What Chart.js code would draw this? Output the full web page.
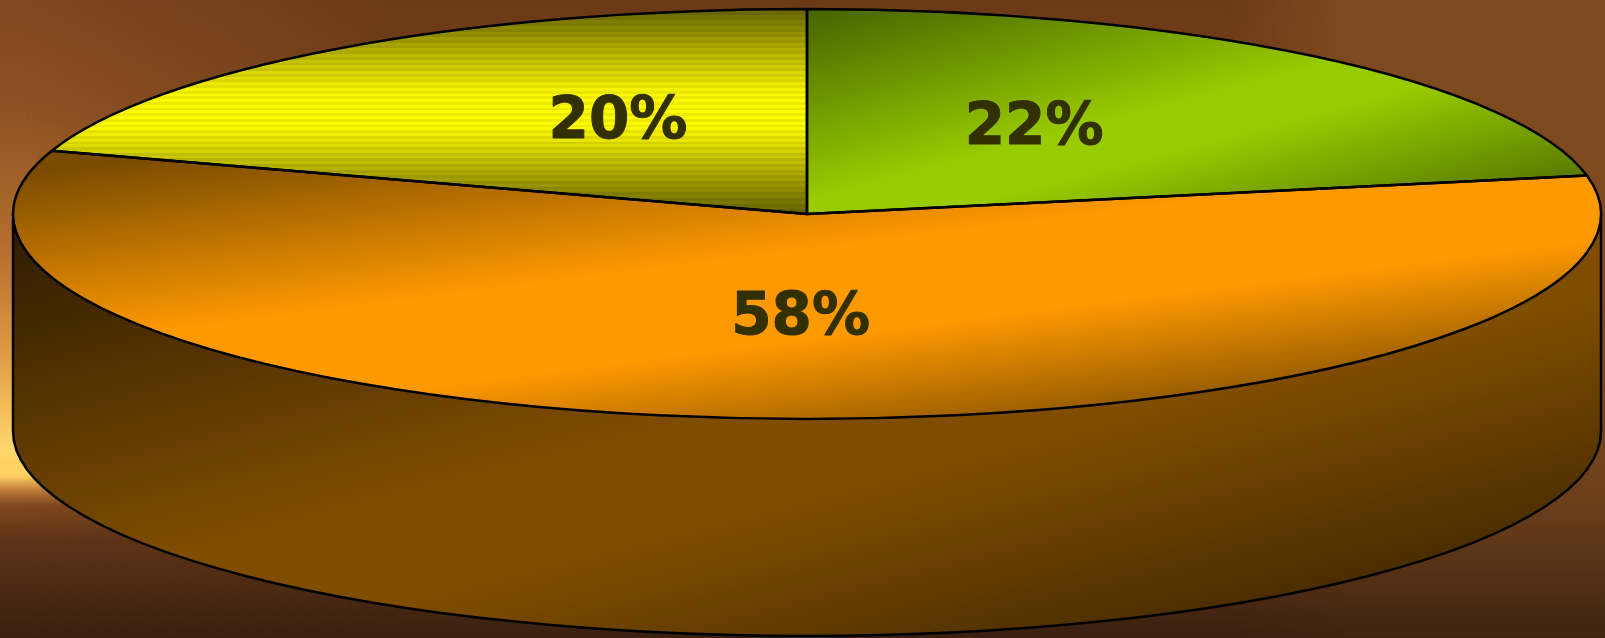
<!DOCTYPE html>
<html>
<head>
<meta charset="utf-8">
<script src="https://cdn.jsdelivr.net/npm/chart.js@4"></script>
<style>
    html, body { margin: 0; padding: 0; width: 1605px; height: 638px; overflow: hidden; }
    body {
        position: relative;
        background: linear-gradient(to bottom, #6c3917 0px, #74411b 120px, #75431c 480px, #5e3417 540px, #3a2010 638px);
    }
    #glow {
        position: absolute; left: 0; top: 0; width: 400px; height: 638px;
        background: linear-gradient(to bottom, #7f4820 0px, #8c5022 100px, #b56f2e 250px, #d99440 340px, #f5bd58 410px, #ffd66c 450px, #ffcf60 476px, #c07e3c 490px, #80481f 505px, #5e3417 540px, #3a2010 638px);
        -webkit-mask-image: linear-gradient(to right, #000 0px, #000 25px, transparent 400px);
        mask-image: linear-gradient(to right, #000 0px, #000 25px, transparent 400px);
    }
    #glowRight {
        position: absolute; right: 0; top: 0; width: 380px; height: 638px;
        background: linear-gradient(to bottom, #7e4a1f 0px, #80491f 300px, #6c3f1b 500px, #3e2410 638px);
        -webkit-mask-image: linear-gradient(to left, #000 0px, #000 260px, transparent 380px);
        mask-image: linear-gradient(to left, #000 0px, #000 260px, transparent 380px);
    }
    #chart { position: absolute; left: 0; top: 0; }
</style>
</head>
<body>
<div id="glow"></div>
<div id="glowRight"></div>
<canvas id="chart" width="1605" height="638"></canvas>
<script>
const categories = ["Green", "Orange", "Yellow"];
const values = [22, 58, 20];

const WIDTH = 1605;
const HEIGHT = 638;
// the pie is a flattened disc, so it is drawn round and squashed by a plugin
const CX = 807;
const CY = 214;
const RX = 794;
const RY = 205;
const DEPTH = 217;
const SQUASH = RY / RX;
// label centres as fractions of the two radii, same order as categories
const labelSpots = [[0.286, -0.415], [-0.008, 0.512], [-0.238, -0.445]];

const chartEl = document.getElementById("chart");
const ctx = chartEl.getContext("2d");

// page y -> y inside the unsquashed chart space
const toChartY = (y) => HEIGHT / 2 + (y - CY) / SQUASH;
const toChartX = (x) => WIDTH / 2 + (x - CX);

// dark corner -> bright band -> dark corner, like a diagonal box gradient
const boxGradient = (x0, y0, x1, y1, dark, bright, from, to) => {
    const w = x1 - x0;
    const h = y1 - y0;
    const mx = (x0 + x1) / 2;
    const my = (y0 + y1) / 2;
    const t = (w * h) / (w * w + h * h);
    const g = ctx.createLinearGradient(mx - t * h, my - t * w, mx + t * h, my + t * w);
    g.addColorStop(0, dark);
    g.addColorStop(from, bright);
    g.addColorStop(to, bright);
    g.addColorStop(1, dark);
    return g;
};

const sliceGradient = (x0, y0, x1, y1, dark, bright, from, to) =>
    boxGradient(toChartX(x0), toChartY(y0), toChartX(x1), toChartY(y1), dark, bright, from, to);

// yellow slice has thin horizontal bands
const bandedYellow = () => {
    const top = 9;
    const bottom = 212;
    const g = ctx.createLinearGradient(0, toChartY(top), 0, toChartY(bottom));
    const bands = 72;
    for (let i = 0; i < bands; i++) {
        const mid = (i + 0.5) / bands;
        const lit = Math.min(1, (1 - Math.abs(mid - 0.5) * 2) * 1.2);
        const shade = i % 2 ? 0.93 : 1;
        const rg = (105 + 150 * lit) * shade;
        const color = `rgb(${rg | 0}, ${(rg * 0.985) | 0}, 0)`;
        g.addColorStop(i / bands, color);
        g.addColorStop((i + 1) / bands, color);
    }
    return g;
};

const sliceColors = [
    sliceGradient(807, 9, 1585, 214, "#466200", "#99cc00", 0.47, 0.58),
    sliceGradient(13, 175, 1601, 375, "#7a4c00", "#ff9900", 0.44, 0.66),
    bandedYellow(),
];

const squash = (c, chart) => {
    const area = chart.chartArea;
    c.translate(CX, CY);
    c.scale(1, SQUASH);
    c.translate(-(area.left + area.right) / 2, -(area.top + area.bottom) / 2);
};

const flatPie = {
    id: "flatPie",
    beforeDatasetsDraw(chart) {
        const c = chart.ctx;
        // side wall below the disc
        c.save();
        c.beginPath();
        c.moveTo(CX - RX, CY);
        c.lineTo(CX - RX, CY + DEPTH);
        c.ellipse(CX, CY + DEPTH, RX, RY, 0, Math.PI, 0, true);
        c.lineTo(CX + RX, CY);
        c.closePath();
        c.fillStyle = boxGradient(13, 230, 1601, 636, "#2e1c00", "#7f4d00", 0.45, 0.58);
        c.fill();
        c.lineWidth = 2.5;
        c.strokeStyle = "#000";
        c.stroke();
        c.restore();

        c.save();
        squash(c, chart);
    },
    afterDatasetsDraw(chart) {
        const c = chart.ctx;
        c.restore();
        const arcs = chart.getDatasetMeta(0).data;

        // outlines are built squashed but stroked flat, so the pen stays even
        c.save();
        c.lineWidth = 2.5;
        c.lineJoin = "round";
        c.strokeStyle = "#000";
        arcs.forEach((arc) => {
            c.save();
            squash(c, chart);
            c.beginPath();
            c.moveTo(arc.x, arc.y);
            c.arc(arc.x, arc.y, arc.outerRadius, arc.startAngle, arc.endAngle);
            c.closePath();
            c.restore();
            c.stroke();
        });

        c.font = "bold 58px 'DejaVu Sans'";
        c.fillStyle = "#333000";
        c.strokeStyle = "#333000";
        c.lineWidth = 1;
        c.textAlign = "center";
        c.textBaseline = "middle";
        values.forEach((v, i) => {
            const x = CX + labelSpots[i][0] * RX;
            const y = CY + labelSpots[i][1] * RY;
            c.fillText(v + "%", x, y);
            c.strokeText(v + "%", x, y);
        });
        c.restore();
    },
};

new Chart(chartEl, {
    type: "pie",
    data: {
        labels: categories,
        datasets: [
            {
                data: values,
                backgroundColor: sliceColors,
                borderWidth: 0,
                radius: RX,
                clip: false,
            },
        ],
    },
    options: {
        responsive: false,
        animation: false,
        plugins: {
            legend: { display: false },
            tooltip: { enabled: false },
        },
    },
    plugins: [flatPie],
});
</script>
</body>
</html>
